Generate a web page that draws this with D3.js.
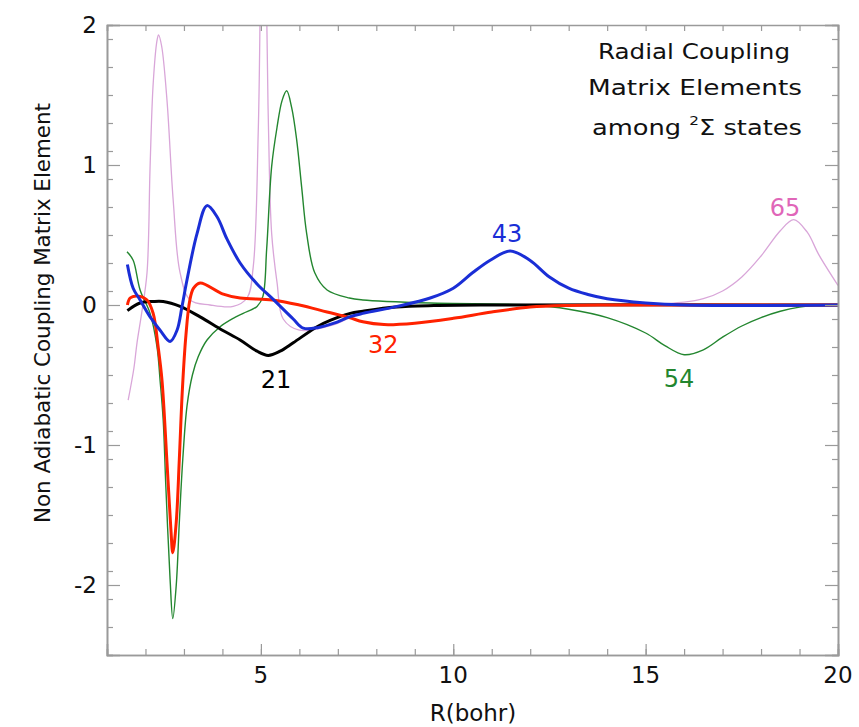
<!DOCTYPE html>
<html>
<head>
<meta charset="utf-8">
<script src="https://cdn.jsdelivr.net/npm/d3@7"></script>
<style>
  body { margin: 0; background: #fff; }
  text { font-family: "Comic Sans MS", "DejaVu Sans", sans-serif; }
</style>
</head>
<body>
<svg id="chart" width="859" height="727"></svg>
<script>
// curves: [R (bohr), coupling]
const c21 = [[1.53,-0.04],[1.86,0.014],[2.2,0.025],[2.46,0.025],[2.9,-0.01],[3.42,-0.085],[4.0,-0.18],[4.46,-0.25],
  [4.9,-0.33],[5.19,-0.36],[5.5,-0.33],[5.84,-0.27],[6.46,-0.155],[6.8,-0.11],[7.32,-0.06],[7.65,-0.045],
  [8.5,-0.015],[9.5,-0.004],[11,0],[20,0]];
const c32 = [[1.53,0.0],[1.6,0.05],[1.78,0.065],[2.04,0.036],[2.2,-0.06],[2.33,-0.3],[2.43,-0.54],[2.56,-1.13],
  [2.66,-1.6],[2.71,-1.77],[2.8,-1.55],[2.88,-1.1],[2.96,-0.6],[3.05,-0.22],[3.15,0.03],[3.25,0.12],[3.42,0.157],
  [4.0,0.08],[4.46,0.05],[5.3,0.036],[6.0,0.0],[6.72,-0.05],[7.3,-0.09],[7.65,-0.12],[8.2,-0.14],[9.0,-0.13],
  [10.0,-0.095],[11.0,-0.05],[12,-0.015],[13,-0.003],[14,0],[20,0]];
const c43 = [[1.53,0.29],[1.68,0.12],[1.86,0.036],[2.12,-0.085],[2.38,-0.18],[2.64,-0.26],[2.82,-0.18],[2.95,-0.01],
  [3.08,0.18],[3.34,0.51],[3.6,0.71],[3.86,0.63],[4.12,0.47],[4.46,0.3],[4.9,0.15],[5.32,0.04],[5.84,-0.1],
  [6.1,-0.165],[6.5,-0.16],[6.9,-0.13],[7.3,-0.085],[7.65,-0.06],[8.54,-0.01],[9.4,0.05],[10.0,0.12],[10.5,0.23],
  [10.96,0.32],[11.48,0.386],[11.99,0.32],[12.5,0.2],[13.0,0.12],[13.5,0.075],[14,0.045],[15,0.015],[16,0],[20,0]];
const c54 = [[1.52,0.38],[1.68,0.32],[1.86,0.107],[2.12,-0.06],[2.3,-0.3],[2.38,-0.54],[2.46,-0.82],[2.53,-1.3],
  [2.64,-1.96],[2.71,-2.24],[2.8,-2.0],[2.88,-1.55],[2.97,-1.1],[3.08,-0.72],[3.22,-0.5],[3.37,-0.37],[3.6,-0.25],
  [3.94,-0.155],[4.28,-0.095],[4.54,-0.06],[4.9,-0.01],[5.05,0.06],[5.15,0.4],[5.28,0.99],[5.42,1.27],[5.55,1.46],
  [5.67,1.53],[5.8,1.41],[5.93,1.18],[6.06,0.84],[6.19,0.51],[6.4,0.23],[6.72,0.107],[7.3,0.05],[7.65,0.036],
  [9.4,0.014],[12,0],[13,-0.03],[14,-0.09],[15,-0.2],[15.5,-0.29],[16,-0.355],[16.5,-0.32],[17,-0.23],[17.5,-0.15],
  [18,-0.09],[18.5,-0.045],[19,-0.015],[19.5,0],[20,0]];
const c65 = [[1.55,-0.68],[1.7,-0.45],[1.78,-0.27],[1.9,-0.06],[2.04,0.23],[2.12,0.99],[2.2,1.58],[2.3,1.89],
  [2.34,1.93],[2.42,1.85],[2.56,1.46],[2.72,0.75],[2.9,0.23],[3.16,0.036],[3.68,0],[4.28,-0.01],[4.64,0.05],
  [4.8,0.27],[4.93,1.23],[4.98,2.1],[5.06,4.5],[5.15,2.1],[5.2,1.23],[5.28,0.51],[5.42,0.16],[5.58,-0.1],
  [6.0,-0.18],[6.9,-0.14],[7.5,-0.07],[8.5,-0.02],[10,0],[15,0.005],[16,0.02],[16.5,0.045],[17,0.1],[17.5,0.2],
  [18,0.35],[18.5,0.53],[18.85,0.61],[19.2,0.52],[19.5,0.36],[20,0.14]];

const xTicks = [5, 10, 15, 20];
const yTicks = [-2, -1, 0, 1, 2];

// name, data, colour, width, label position [R, value]
const series = [
  { name: '65', data: c65, color: '#d9a6d9', width: 1.3, labelColor: '#e066b8', at: [18.62, 0.635] },
  { name: '54', data: c54, color: '#23862f', width: 1.4, labelColor: '#23862f', at: [15.87, -0.585] },
  { name: '21', data: c21, color: '#000000', width: 3, labelColor: '#000000', at: [5.39, -0.59] },
  { name: '32', data: c32, color: '#ff2200', width: 3, labelColor: '#ff2200', at: [8.18, -0.34] },
  { name: '43', data: c43, color: '#1a2ed6', width: 3, labelColor: '#1a2ed6', at: [11.4, 0.45] },
];

const svg = d3.select('#chart');
const m = { left: 107, right: 21, top: 25, bottom: 72 };
const W = 859, H = 727;

const x = d3.scaleLinear().domain([1, 20]).range([m.left, W - m.right]);
const y = d3.scaleLinear().domain([-2.5, 2]).range([H - m.bottom, m.top]);

svg.append('clipPath').attr('id', 'clip')
  .append('rect')
  .attr('x', x(1)).attr('y', y(2))
  .attr('width', x(20) - x(1)).attr('height', y(-2.5) - y(2));

const line = d3.line()
  .x((d) => x(d[0]))
  .y((d) => y(d[1]))
  .curve(d3.curveCatmullRom.alpha(0.5));

const plot = svg.append('g').attr('clip-path', 'url(#clip)');
series.forEach((s) => {
  plot.append('path')
    .datum(s.data)
    .attr('fill', 'none')
    .attr('stroke', s.color)
    .attr('stroke-width', s.width)
    .attr('stroke-linejoin', 'round')
    .attr('d', line);
});

// frame with inward ticks on all four sides
const frameColor = '#9a9a9a';
const minorX = d3.range(1, 21);
const minorY = d3.range(-25, 21, 2).map((v) => v / 10);

svg.append('g').attr('transform', `translate(0,${y(-2.5)})`)
  .call(d3.axisBottom(x).tickValues(minorX).tickSize(-6).tickFormat(''));
svg.append('g').attr('transform', `translate(0,${y(2)})`)
  .call(d3.axisTop(x).tickValues(minorX).tickSize(-6).tickFormat(''));
svg.append('g').attr('transform', `translate(${x(1)},0)`)
  .call(d3.axisLeft(y).tickValues(minorY).tickSize(-6).tickFormat(''));
svg.append('g').attr('transform', `translate(${x(20)},0)`)
  .call(d3.axisRight(y).tickValues(minorY).tickSize(-6).tickFormat(''));

// longer major ticks
svg.append('g').attr('transform', `translate(0,${y(-2.5)})`)
  .call(d3.axisBottom(x).tickValues(xTicks).tickSize(-11).tickFormat(''));
svg.append('g').attr('transform', `translate(${x(1)},0)`)
  .call(d3.axisLeft(y).tickValues(yTicks).tickSize(-13).tickFormat(''));
svg.append('g').attr('transform', `translate(${x(20)},0)`)
  .call(d3.axisRight(y).tickValues(yTicks).tickSize(-13).tickFormat(''));

svg.selectAll('.domain').attr('stroke', frameColor).attr('stroke-width', 1.6);
svg.selectAll('.tick line').attr('stroke', frameColor).attr('stroke-width', 1.2);

// tick labels
svg.append('g').selectAll('text').data(xTicks).join('text')
  .attr('x', (d) => x(d)).attr('y', y(-2.5) + 28)
  .attr('text-anchor', 'middle').attr('font-size', 23).attr('fill', '#111')
  .text((d) => d);
svg.append('g').selectAll('text').data(yTicks).join('text')
  .attr('x', x(1) - 10).attr('y', (d) => y(d) + 8)
  .attr('text-anchor', 'end').attr('font-size', 23).attr('fill', '#111')
  .text((d) => d);

svg.append('text')
  .attr('x', 473).attr('y', 721)
  .attr('text-anchor', 'middle').attr('font-size', 23).attr('fill', '#111')
  .text('R(bohr)');
svg.append('text')
  .attr('transform', 'translate(50,313) rotate(-90)')
  .attr('text-anchor', 'middle').attr('font-size', 22).attr('fill', '#111')
  .attr('textLength', 420).attr('lengthAdjust', 'spacingAndGlyphs')
  .text('Non Adiabatic Coupling Matrix Element');

// curve labels
svg.append('g').selectAll('text').data(series).join('text')
  .attr('x', (d) => x(d.at[0])).attr('y', (d) => y(d.at[1]))
  .attr('text-anchor', 'middle').attr('font-size', 24)
  .attr('fill', (d) => d.labelColor)
  .text((d) => d.name);

// title block
const title = svg.append('g').attr('font-size', 22).attr('fill', '#111').attr('text-anchor', 'middle');
title.append('text').attr('x', 694).attr('y', 59)
  .attr('textLength', 192).attr('lengthAdjust', 'spacingAndGlyphs').text('Radial Coupling');
title.append('text').attr('x', 695).attr('y', 95)
  .attr('textLength', 214).attr('lengthAdjust', 'spacingAndGlyphs').text('Matrix Elements');
const t3 = title.append('text').attr('x', 697).attr('y', 135)
  .attr('textLength', 210).attr('lengthAdjust', 'spacingAndGlyphs');
t3.append('tspan').text('among ');
t3.append('tspan').attr('font-size', 13).attr('dy', -10).text('2');
t3.append('tspan').attr('dy', 10).text('Σ states');
</script>
</body>
</html>
